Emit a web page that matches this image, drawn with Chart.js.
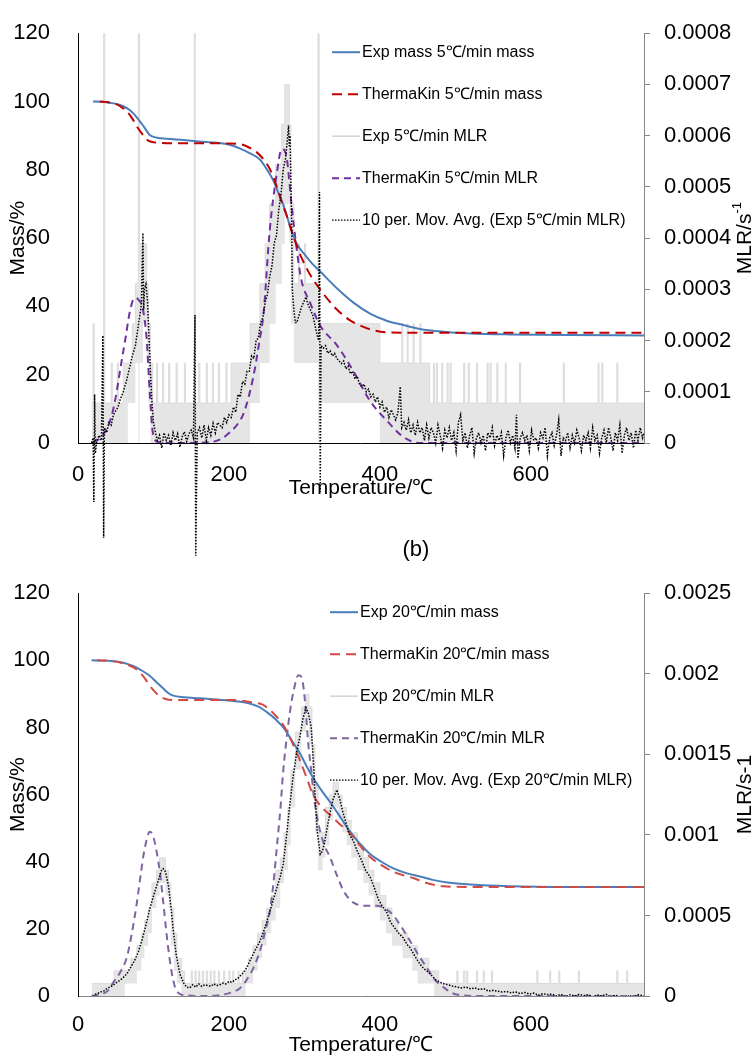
<!DOCTYPE html>
<html>
<head>
<meta charset="utf-8">
<script src="https://cdn.jsdelivr.net/npm/chart.js@4.4.1/dist/chart.umd.min.js"></script>
<style>
  html, body { margin: 0; padding: 0; background: #fff; }
  #wrap { position: relative; width: 754px; height: 1055px; overflow: hidden; background: #fff; }
  canvas { position: absolute; left: 0; }
  #c5 { top: 0; }
  #c20 { top: 560px; }
  #lblB { position: absolute; left: 386px; width: 60px; top: 536px; text-align: center;
          font: 22px "Liberation Sans", Arial, sans-serif; line-height: 26px; color: #000; }
</style>
</head>
<body>
<div id="wrap">
  <canvas id="c5" width="754" height="560"></canvas>
  <canvas id="c20" width="754" height="500"></canvas>
  <div id="lblB">(b)</div>
</div>
<script>
// MLR arrays are in units of 1e-5 (kg/s per kg), mass in %
const MLR_UNIT = 1e-5
const xTicks = [0, 200, 400, 600]

// ---- 5 C/min ----
const massExpT5 = [20, 30, 40, 51, 60, 68, 73, 80, 87, 95, 105, 117, 140, 160, 184, 200, 215, 228, 241, 250,
  259, 266, 272, 278, 283, 290, 300, 310, 321, 343, 365, 387, 409, 430, 453, 484, 520, 572, 650, 750]
const massExp5 = [100, 99.9, 99.7, 99.3, 98.6, 97.6, 96.6, 94.8, 92.7, 90.2, 89.4, 89.1, 88.7, 88.3, 87.9, 87.4, 86.2, 84.8, 83.0, 80.2,
  76.8, 73.0, 69.8, 65.6, 62.1, 58.3, 55.3, 52.6, 50.2, 45.3, 41.1, 37.9, 35.8, 34.6, 33.4, 32.6, 32.1, 31.8, 31.6, 31.5]

const massTkT5 = [29, 40, 50, 60, 65, 72, 78, 85, 91, 97, 109, 130, 160, 200, 215, 226, 237, 246, 254, 259,
  265, 270, 276, 285, 294, 307, 321, 343, 360, 374, 390, 409, 430, 453, 500, 600, 750]
const massTk5 = [100, 99.8, 99.3, 98.0, 97.0, 95.0, 92.7, 90.5, 88.9, 88.2, 87.9, 87.8, 87.8, 87.7, 87.5, 86.6, 85.1, 83.0, 80.3, 77.8,
  74.0, 70.5, 66.9, 60.8, 55.4, 49.5, 44.9, 39.1, 36.0, 34.4, 33.1, 32.4, 32.3, 32.3, 32.3, 32.3, 32.3]

const mlrTkT5 = [20, 30, 38, 44, 50, 57, 63, 68.5, 75, 80, 86, 91, 95, 99, 106, 120, 150, 177, 190, 199,
  212, 220, 232, 240, 246, 254, 263, 270, 276, 283, 290, 296, 307.5, 321, 343, 365, 387, 409, 431, 453, 500, 750]
const mlrTk5 = [0.2, 1, 2.8, 5, 9, 15.3, 20.5, 25.5, 28.3, 28, 26.1, 20.3, 10.1, 2.2, 0.2, 0, 0, 0.2, 0.8, 1.8,
  3.8, 6, 12.7, 19.5, 25.5, 41.4, 52.2, 57.4, 56.1, 46.5, 37.6, 31.8, 27.4, 22.9, 19.1, 14, 8.2, 4.4, 1.2, 0, 0, 0]

const mlrAvgT5 = [
  18, 20, 21, 22, 23, 25, 28, 31, 33, 34,
  35, 38, 41, 44, 47, 50, 53, 56, 60, 64,
  68, 72, 76, 79, 82, 84, 86, 87, 88, 90,
  92, 94, 96, 98, 100, 102, 105, 108, 111, 114,
  117, 120, 123, 126, 129, 132, 135, 138, 141, 144,
  147, 150, 153, 155, 156, 158, 161, 164, 167, 170,
  173, 176, 179, 182, 185, 188, 191, 194, 197, 200,
  203, 206, 209, 212, 215, 218, 221, 224, 227, 230,
  233, 236, 239, 242, 245, 248, 251, 254, 257, 260,
  263, 266, 269, 272, 275, 277, 279, 280, 281, 282,
  283, 284, 286, 288, 290, 293, 296, 299, 302, 305,
  308, 311, 314, 317, 319, 320, 321, 322, 325, 328,
  331, 334, 337, 340, 343, 346, 349, 352, 355, 358,
  361, 364, 367, 370, 373, 376, 379, 382, 385, 388,
  391, 394, 397, 400, 403, 406, 409, 412, 415, 418,
  421, 424, 427, 429, 432, 435, 438, 441, 444, 447,
  450, 453, 456, 459, 462, 465, 468, 471, 474, 477,
  480, 483, 486, 489, 492, 495, 498, 501, 504, 507,
  510, 513, 516, 519, 522, 525, 528, 531, 534, 537,
  540, 543, 546, 549, 552, 555, 558, 561, 564, 567,
  570, 573, 576, 579, 581, 583, 586, 589, 592, 595,
  598, 601, 604, 607, 610, 613, 616, 619, 622, 625,
  628, 631, 634, 637, 640, 643, 646, 649, 652, 655,
  658, 661, 664, 667, 670, 673, 676, 679, 682, 685,
  688, 691, 694, 697, 700, 703, 706, 709, 712, 715,
  718, 721, 724, 727, 730, 733, 736, 739, 742, 745,
  748, 750]
const mlrAvg5 = [
  0, 1, -11.5, 9.5, -2, 0.5, 1.5, 0.5, 21, -18.5,
  3, 2, 4, 3.5, 5.5, 6.3, 7, 8.5, 10, 12,
  14.5, 17, 19, 22, 25, 27, 41, 26, 30, 31,
  28, 21, 14, 8, 4, 2.5, 0.5, 1.5, -1, 2,
  0.5, 1.5, -0.5, 2, 0.5, 1.8, -0.8, 1.2, 2.2, 0.3,
  1.8, 2.5, 1, 25, -22, 2, 3, 1, 3.5, 0.5,
  3, 1.5, 3.8, 2, 4, 3.5, 3, 5, 4, 5.5,
  5, 7, 6, 9.5, 9, 12, 11.5, 14, 14, 17,
  16.5, 20, 20.5, 23.5, 24.5, 27.5, 29, 32.5, 34.5, 39,
  40.5, 45.5, 48.5, 53.5, 55.5, 58.5, 62, 58, 60, 52,
  44, 30, 26, 23.5, 23.5, 25, 26.5, 27.5, 28.5, 27,
  26, 25, 23, 21, 20, 49, -9.5, 19, 18.5, 19,
  17.5, 18, 17, 17.5, 16.5, 16, 15.5, 16, 14.5, 15,
  13.5, 14, 12.5, 13, 11.5, 11, 11.5, 10, 10.5, 9,
  9.5, 8, 9, 7, 8, 6, 7, 5, 6.5, 5.5,
  4.5, 6, 11, 3, 4, 2.5, 4.5, 2, 3.5, 1.5,
  4, 2, 3, 0.5, 3.5, 1, 3, 2, 0, 3.5,
  1.5, -1, 2.5, 1, 3, 0.5, 2, -1.5, 4, 5.5,
  0.5, 2, -1, 1.5, 3, -2, 1, 2, 0, 1.5,
  -1.5, 2, 1, 3, -0.5, 1.5, 0.5, 2, -2.5, 1,
  2.5, 0, 1.5, -1, 5.5, -3, 1, 2, 0.5, 1.5,
  -1.5, 2.5, 0.5, 1, -1, 2, 1, 3, -2.5, 1,
  2, -0.5, 1.5, 4.5, -2.5, 1, 0.5, 2, -1, 1.5,
  0, 2.5, 1, -1.5, 1.5, 0.5, 2, -1, 3, 0.5,
  1.5, -2, 1, 2.5, 0, 3, 1, -1.5, 2, 0.5,
  3.5, -2, 1.5, 3, 0.5, 2, -1, 2.5, 0.5, 3,
  1, 2]

// raw experimental MLR: quantised band (low / high edge), each value holds until the next temperature
const mlrExpT5 = [
  18, 20, 21.5, 34, 35.5, 44, 45.5, 52, 53.5, 60,
  66, 72, 76, 80, 81.5, 86, 91, 93, 96, 99,
  104, 105.5, 112, 113.5, 120, 121.5, 130, 131.5, 141, 142.5,
  154, 155.5, 160, 161.5, 170, 171.5, 178, 179.5, 186, 187.5,
  196, 197.5, 203, 228, 241, 248, 254, 262, 270, 274,
  280, 282, 286, 292, 293.5, 300, 301.5, 318, 319.5, 400,
  429, 430.5, 436, 437.5, 444, 445.5, 453, 454.5, 466, 471,
  472.5, 475, 476.5, 482, 483.5, 489, 490.5, 493, 494.5, 511,
  512.5, 517, 518.5, 528, 529.5, 542, 543.5, 546, 547.5, 555,
  556.5, 566, 567.5, 585, 586.5, 643, 644.5, 689, 690.5, 694,
  695.5, 714, 715.5, 750]
const mlrExpLo5 = [
  0, 0, 0, -100, 0, 0, 0, 0, 0, 0,
  7.8, 7.8, 15.6, -100, 15.6, 23.3, 15.6, 7.8, 0, 0,
  0, 0, 0, 0, 0, 0, 0, 0, 0, 0,
  -100, 0, 0, 0, 0, 0, 0, 0, 0, 0,
  0, 0, 0, 7.8, 15.6, 15.6, 23.3, 31.1, 38.9, 46.7,
  38.9, 23.3, 15.6, 15.6, 15.6, 15.6, 15.6, -100, 7.8, 0,
  0, 0, 0, 0, 0, 0, 0, 0, 0, 0,
  0, 0, 0, 0, 0, 0, 0, 0, 0, 0,
  0, 0, 0, 0, 0, 0, 0, 0, 0, 0,
  0, 0, 0, 0, 0, 0, 0, 0, 0, 0,
  0, 0, 0, 0]
const mlrExpHi5 = [
  7.8, 23.3, 7.8, 100, 7.8, 15.6, 7.8, 15.6, 7.8, 15.6,
  15.6, 23.3, 31.1, 100, 38.9, 38.9, 31.1, 23.3, 15.6, 7.8,
  15.6, 7.8, 15.6, 7.8, 15.6, 7.8, 15.6, 7.8, 15.6, 7.8,
  100, 7.8, 15.6, 7.8, 15.6, 7.8, 15.6, 7.8, 15.6, 7.8,
  15.6, 7.8, 15.6, 23.3, 31.1, 38.9, 46.7, 54.4, 62.2, 70,
  62.2, 46.7, 31.1, 38.9, 31.1, 38.9, 31.1, 100, 23.3, 15.6,
  23.3, 15.6, 23.3, 15.6, 23.3, 15.6, 23.3, 15.6, 7.8, 15.6,
  7.8, 15.6, 7.8, 15.6, 7.8, 15.6, 7.8, 15.6, 7.8, 15.6,
  7.8, 15.6, 7.8, 15.6, 7.8, 15.6, 7.8, 15.6, 7.8, 15.6,
  7.8, 15.6, 7.8, 15.6, 7.8, 15.6, 7.8, 15.6, 7.8, 15.6,
  7.8, 15.6, 7.8, 7.8]

// ---- 20 C/min ----
const massExpT20 = [18, 40, 60, 73, 85, 95, 104, 113, 120, 126, 140, 162, 185, 206, 220, 232, 241, 250, 262, 272,
  285, 294, 304, 314, 324, 334, 347, 360, 373, 387, 402, 418, 435, 453, 470, 490, 520, 572, 650, 750]
const massExp20 = [100, 99.9, 99.3, 98.3, 96.9, 95.4, 93.5, 91.6, 90.2, 89.5, 89.0, 88.7, 88.3, 87.9, 87.5, 86.8, 86.0, 84.6, 82.4, 80.0,
  75.5, 72.3, 68.0, 64.1, 60.8, 57.8, 53.5, 49.1, 45.5, 42.3, 40.0, 38.0, 36.6, 35.6, 34.6, 33.8, 33.2, 32.7, 32.5, 32.5]

const massTkT20 = [25, 45, 64, 74, 82, 89, 95, 102, 109, 116, 126, 160, 206, 220, 232, 244, 254, 264, 274, 284,
  294, 303, 312, 322, 334, 347, 360, 373, 387, 402, 418, 432, 445, 460, 484, 520, 600, 750]
const massTk20 = [100, 99.8, 98.8, 97.8, 96.4, 94.5, 92.5, 90.6, 89.2, 88.5, 88.2, 88.2, 88.2, 87.9, 87.4, 86.9, 85.3, 83.0, 80.0, 75.4,
  70.3, 65.0, 59.7, 56.5, 53.9, 51.2, 48.6, 45.0, 41.4, 39.0, 37.0, 35.9, 35.1, 33.8, 32.7, 32.5, 32.5, 32.5]

const mlrTkT20 = [18, 30, 40, 47, 55, 64.5, 71, 78, 83, 87, 91, 95, 99, 104, 109, 113, 117, 120, 124, 128.5,
  134, 140, 170, 206, 215, 223, 232, 241, 248, 254, 259, 263, 268, 272, 277, 281, 286, 292, 296, 299,
  302, 305, 309, 312, 316, 321, 327, 334, 343, 351, 358, 365, 378, 396, 408, 418, 427, 435, 444, 453,
  462, 473, 484, 495, 506, 530, 750]
const mlrTk20 = [0, 1, 3.5, 8.6, 14, 23.7, 38, 58, 75, 88, 97, 102, 100, 90, 75, 58, 40, 28, 15, 5.6,
  1.5, 0.6, 0, 2.6, 5, 9.7, 17, 27.8, 40, 52, 70, 90, 115, 140, 162, 177, 190, 199, 198, 191,
  176, 157, 140, 126, 113, 102, 93, 86, 75, 66, 61, 58, 56, 56, 54, 50, 44, 38, 31, 24,
  17.7, 10, 5.6, 2, 0.6, 0, 0]

const mlrAvgT20 = [
  18, 20, 22, 26, 30, 34, 38, 42, 46, 50,
  55, 60, 65, 70, 75, 80, 85, 90, 95, 100,
  104, 108, 111, 113, 116, 120, 123, 126, 130, 135,
  140, 144, 148, 152, 156, 160, 164, 168, 172, 176,
  180, 184, 188, 192, 196, 200, 204, 208, 212, 216,
  220, 224, 228, 232, 236, 241, 246, 250, 254, 259,
  264, 268, 272, 276, 280, 285, 290, 294, 298, 302,
  305, 309, 312, 314, 317, 321, 324, 327, 330, 334,
  338, 343, 347, 351, 356, 360, 365, 370, 376, 381,
  387, 392, 398, 403, 409, 414, 420, 425, 431, 436,
  440, 446, 453, 458, 462, 468, 474, 480, 484, 490,
  496, 502, 508, 514, 520, 526, 532, 538, 544, 550,
  556, 562, 568, 574, 580, 586, 592, 598, 604, 610,
  616, 622, 628, 634, 640, 646, 652, 658, 664, 670,
  676, 682, 688, 694, 700, 706, 712, 718, 725, 730,
  736, 742, 750]
const mlrAvg20 = [
  0, -2, 1, 1.5, 2.5, 3, 4.5, 5.5, 6.5, 8,
  9.5, 11.5, 14, 18, 22, 27.5, 35, 44, 54, 62,
  68, 74, 78.5, 79, 77, 68, 56, 42, 26, 13.7,
  8, 5.5, 5, 7, 5.5, 7.5, 6, 7, 6.5, 6,
  7.5, 6.5, 7, 8, 7.5, 9, 8.5, 10, 11, 13,
  15, 18, 22, 26, 29.5, 34, 40, 46, 52, 60,
  68, 74, 82, 98, 116, 136, 152, 161, 172, 179,
  176, 167, 145, 126, 102, 88, 90, 96, 104, 114,
  122, 128, 122, 114, 106, 100, 96, 90, 84, 78,
  74, 68, 60, 56, 52, 46, 42, 39, 36, 32,
  30, 25, 20, 17, 15.7, 13, 10, 8.5, 7.7, 7,
  6.2, 5.6, 5, 5.6, 4.5, 5, 4, 4.5, 3, 3.5,
  3, 2.5, 2.8, 2, 2.5, 1.5, 2.2, 1.2, 1.8, 0.5,
  1.5, 0.8, 1.2, 0, 1, -0.5, 0.8, 0, 1, 0.2,
  0.9, -0.6, 0.7, 0, 1, -1, 0.6, -0.5, -4, 0.5,
  -1, 0.8, 0]

const mlrExpT20 = [
  18, 48, 62, 70, 78, 84, 88, 93, 98, 104,
  108, 116, 120, 123, 127, 131, 137, 141, 150, 151.5,
  155, 156.5, 160, 161.5, 165, 166.5, 170, 171.5, 175, 176.5,
  180, 181.5, 186, 187.5, 193, 194.5, 200, 201.5, 205, 206.5,
  212, 213.5, 218, 219.5, 222, 226, 232, 238, 244, 250,
  256, 262, 268, 273, 278, 282, 288, 296, 302, 306,
  310, 314, 318, 324, 328, 333, 338, 345, 350, 356,
  362, 370, 378, 385, 392, 400, 408, 416, 424, 430,
  437, 443, 450, 465, 472, 478, 502, 503.5, 511, 512.5,
  515, 516.5, 528, 529.5, 537, 538.5, 548, 549.5, 608, 609.5,
  625, 626.5, 637, 638.5, 663, 664.5, 714, 715.5, 727, 728.5,
  750]
const mlrExpLo20 = [
  0, 0, 7.8, 7.8, 15.6, 23.4, 31.2, 39, 54.6, 62.4,
  70.2, 62.4, 54.6, 31.2, 15.6, 7.8, 0, 0, 0, 0,
  0, 0, 0, 0, 0, 0, 0, 0, 0, 0,
  0, 0, 0, 0, 0, 0, 0, 0, 0, 0,
  0, 0, 0, 0, 7.8, 7.8, 15.6, 23.4, 31.2, 39,
  46.8, 54.6, 70.2, 78, 93.6, 117, 140.4, 163.8, 171.6, 156,
  124.8, 101.4, 78, 85.8, 93.6, 109.2, 117, 109.2, 101.4, 93.6,
  85.8, 78, 70.2, 62.4, 54.6, 46.8, 39, 31.2, 31.2, 23.4,
  23.4, 15.6, 7.8, 7.8, 0, 0, 0, 0, 0, 0,
  0, 0, 0, 0, 0, 0, 0, 0, 0, 0,
  0, 0, 0, 0, 0, 0, 0, 0, 0, 0,
  0]
const mlrExpHi20 = [
  7.8, 15.6, 15.6, 23.4, 31.2, 39, 46.8, 54.6, 70.2, 78,
  85.8, 78, 70.2, 54.6, 39, 23.4, 15.6, 7.8, 15.6, 7.8,
  15.6, 7.8, 15.6, 7.8, 15.6, 7.8, 15.6, 7.8, 15.6, 7.8,
  15.6, 7.8, 15.6, 7.8, 15.6, 7.8, 15.6, 7.8, 15.6, 7.8,
  15.6, 7.8, 15.6, 7.8, 15.6, 23.4, 31.2, 39, 46.8, 54.6,
  62.4, 78, 85.8, 101.4, 117, 140.4, 163.8, 179.4, 187.2, 179.4,
  156, 132.6, 101.4, 101.4, 117, 124.8, 132.6, 124.8, 117, 109.2,
  101.4, 93.6, 85.8, 78, 70.2, 62.4, 54.6, 46.8, 39, 39,
  31.2, 31.2, 23.4, 15.6, 15.6, 7.8, 15.6, 7.8, 15.6, 7.8,
  15.6, 7.8, 15.6, 7.8, 15.6, 7.8, 15.6, 7.8, 15.6, 7.8,
  15.6, 7.8, 15.6, 7.8, 15.6, 7.8, 15.6, 7.8, 15.6, 7.8,
  7.8]

const FONT = '"Liberation Sans", Arial, sans-serif'
Chart.defaults.font.family = FONT
Chart.defaults.color = '#000'

function xy(t, v, k) {
  return t.map((x, i) => ({ x: x, y: v[i] * (k || 1) }))
}

// custom legend inside the plot + right axis title reading upwards
const overlay = {
  id: 'overlay',
  afterDraw(chart, args, opts) {
    const ctx = chart.ctx
    const area = chart.chartArea
    ctx.save()
    chart.data.datasets.forEach((ds, i) => {
      if (ds.noLegend) return
      const y = area.top + opts.legendTop + i * opts.legendGap
      ctx.beginPath()
      ctx.setLineDash(ds.legendDash || ds.borderDash || [])
      ctx.strokeStyle = ds.legendColor || ds.borderColor
      ctx.lineWidth = ds.legendWidth || ds.borderWidth
      ctx.moveTo(opts.legendX, y)
      ctx.lineTo(opts.legendX + 28, y)
      ctx.stroke()
      ctx.setLineDash([])
      ctx.fillStyle = '#000'
      ctx.font = '16px ' + FONT
      ctx.textAlign = 'left'
      ctx.textBaseline = 'middle'
      ctx.fillText(ds.label, opts.legendX + 30, y)
    })

    ctx.translate(opts.titleX, (area.top + area.bottom) / 2)
    ctx.rotate(-Math.PI / 2)
    ctx.font = '21px ' + FONT
    const w1 = ctx.measureText(opts.title).width
    ctx.font = '13px ' + FONT
    const w2 = opts.sup ? ctx.measureText(opts.sup).width : 0
    const x0 = -(w1 + w2) / 2
    ctx.textAlign = 'left'
    ctx.textBaseline = 'middle'
    ctx.font = '21px ' + FONT
    ctx.fillText(opts.title, x0, 0)
    if (opts.sup) {
      ctx.font = '13px ' + FONT
      ctx.fillText(opts.sup, x0 + w1, -8)
    }
    ctx.restore()
  }
}

function mlrLabel(v) {
  return v === 0 ? '0' : String(parseFloat(v.toFixed(4)))
}

function makeChart(id, s) {
  const ctx = document.getElementById(id).getContext('2d')
  return new Chart(ctx, {
    type: 'line',
    data: {
      datasets: [
        {
          label: s.labels[0], data: xy(s.massExpT, s.massExp), yAxisID: 'y',
          borderColor: '#4a7ebb', borderWidth: 2, cubicInterpolationMode: 'monotone', order: 2
        },
        {
          label: s.labels[1], data: xy(s.massTkT, s.massTk), yAxisID: 'y',
          borderColor: s.red, borderWidth: 2, borderDash: [10, 6], cubicInterpolationMode: 'monotone', order: 1
        },
        {
          label: s.labels[2], data: xy(s.mlrExpT, s.mlrExpHi, MLR_UNIT), yAxisID: 'y1',
          borderColor: '#dcdcdc', borderWidth: 1, backgroundColor: '#e5e5e5', stepped: 'before', fill: 5,
          legendColor: '#d4d4d4', legendWidth: 1.5, order: 5
        },
        {
          label: s.labels[3], data: xy(s.mlrTkT, s.mlrTk, MLR_UNIT), yAxisID: 'y1',
          borderColor: s.purple, borderWidth: 2, borderDash: [7, 5], cubicInterpolationMode: 'monotone', order: 3
        },
        {
          label: s.labels[4], data: xy(s.mlrAvgT, s.mlrAvg, MLR_UNIT), yAxisID: 'y1',
          borderColor: '#000', borderWidth: 1.5, borderDash: [1.5, 1.5], clip: s.avgClip, order: 0,
          legendWidth: 1.2
        },
        {
          label: 'lo', data: xy(s.mlrExpT, s.mlrExpLo, MLR_UNIT), yAxisID: 'y1',
          borderWidth: 0, stepped: 'before', fill: false, noLegend: true, order: 6
        }
      ]
    },
    options: {
      responsive: false,
      animation: false,
      devicePixelRatio: 1,
      events: [],
      elements: { point: { radius: 0 } },
      layout: { padding: { top: s.top, left: 0, right: 0, bottom: 0 } },
      plugins: {
        legend: { display: false },
        tooltip: { enabled: false },
        overlay: {
          legendX: s.legendX, legendTop: 19, legendGap: 42,
          titleX: 745, title: s.rTitle, sup: s.rSup
        }
      },
      scales: {
        x: {
          type: 'linear', min: 0, max: 750,
          grid: { display: false },
          border: { display: true, color: s.xColor, width: 1 },
          ticks: {
            stepSize: 200, includeBounds: false, padding: s.xTickPad, maxRotation: 0,
            font: { size: 22 }, callback: v => xTicks.includes(v) ? String(v) : ''
          },
          title: { display: true, text: 'Temperature/℃', font: { size: 21 }, padding: { top: 0, bottom: s.xTitlePad } },
          afterFit: sc => { sc.height = s.xH }
        },
        y: {
          position: 'left', min: 0, max: 120,
          grid: { display: false },
          border: { display: true, color: '#000', width: 1 },
          ticks: { stepSize: 20, padding: 20, font: { size: 22 } },
          title: { display: true, text: 'Mass/%', font: { size: 21 }, padding: { top: 6, bottom: 0 } },
          afterFit: sc => { sc.width = 78 }
        },
        y1: {
          position: 'right', min: 0, max: s.rMax,
          grid: { display: true, drawOnChartArea: false, drawTicks: true, tickLength: 6, color: '#868686' },
          border: { display: true, color: '#868686', width: 1 },
          ticks: { stepSize: s.rStep, padding: 14, font: { size: 22 }, callback: mlrLabel },
          afterFit: sc => { sc.width = 110 }
        }
      }
    },
    plugins: [overlay]
  })
}

makeChart('c5', {
  labels: ['Exp mass 5℃/min mass', 'ThermaKin 5℃/min mass', 'Exp 5℃/min MLR',
    'ThermaKin 5℃/min MLR', '10 per. Mov. Avg. (Exp 5℃/min MLR)'],
  massExpT: massExpT5, massExp: massExp5, massTkT: massTkT5, massTk: massTk5,
  mlrTkT: mlrTkT5, mlrTk: mlrTk5, mlrAvgT: mlrAvgT5, mlrAvg: mlrAvg5,
  mlrExpT: mlrExpT5, mlrExpLo: mlrExpLo5, mlrExpHi: mlrExpHi5,
  red: '#c00000', purple: '#7030a0', xColor: '#000', avgClip: false,
  top: 23, xH: 117, xTitlePad: 59, xTickPad: 11, legendX: 332,
  rMax: 0.0008, rStep: 0.0001, rTitle: 'MLR/s', rSup: '-1'
})

makeChart('c20', {
  labels: ['Exp 20℃/min mass', 'ThermaKin 20℃/min mass', 'Exp 20℃/min MLR',
    'ThermaKin 20℃/min MLR', '10 per. Mov. Avg. (Exp 20℃/min MLR)'],
  massExpT: massExpT20, massExp: massExp20, massTkT: massTkT20, massTk: massTk20,
  mlrTkT: mlrTkT20, mlrTk: mlrTk20, mlrAvgT: mlrAvgT20, mlrAvg: mlrAvg20,
  mlrExpT: mlrExpT20, mlrExpLo: mlrExpLo20, mlrExpHi: mlrExpHi20,
  red: '#d24a45', purple: '#8064a2', xColor: '#868686', avgClip: undefined,
  top: 22, xH: 64, xTitlePad: 2, xTickPad: 8, legendX: 330,
  rMax: 0.0025, rStep: 0.0005, rTitle: 'MLR/s-1', rSup: ''
})
</script>
</body>
</html>
